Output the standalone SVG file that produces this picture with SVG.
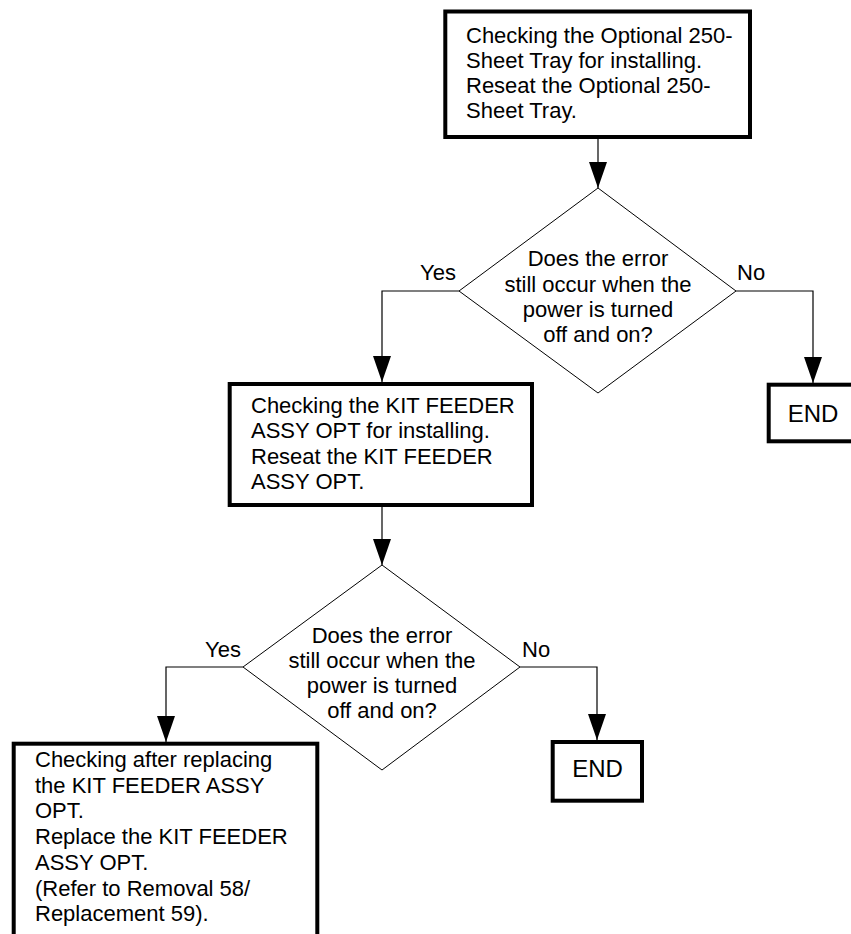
<svg xmlns="http://www.w3.org/2000/svg" width="851" height="934" viewBox="0 0 851 934">
  <defs>
    <marker id="arrow" viewBox="0 0 26 18" refX="26" refY="9" markerWidth="26" markerHeight="18" markerUnits="userSpaceOnUse" orient="auto">
      <path d="M0,0 L26,9 L0,18 z" fill="#000"/>
    </marker>
  </defs>
  <style>
    .box { fill: #fff; stroke: #000; stroke-width: 4; }
    .decision { fill: #fff; stroke: #000; stroke-width: 1; }
    .edge { fill: none; stroke: #000; stroke-width: 1.2; marker-end: url(#arrow); }
    text { font-family: "Liberation Sans", Arial, sans-serif; font-size: 22px; fill: #000; }
    .mid { text-anchor: middle; }
    .end { font-size: 24px; text-anchor: middle; }
  </style>
  <rect width="851" height="934" fill="#fff"/>

  <!-- connectors -->
  <g id="connectors">
    <path class="edge" d="M598,139 V188"/>
    <path class="edge" d="M459,291 H382 V382"/>
    <path class="edge" d="M736,291 H813 V383"/>
    <path class="edge" d="M382,507 V565"/>
    <path class="edge" d="M243,667 H166 V742"/>
    <path class="edge" d="M520,667 H597 V740"/>
    <text x="420" y="280">Yes</text>
    <text x="737" y="280">No</text>
    <text x="205" y="657">Yes</text>
    <text x="522" y="657">No</text>
  </g>

  <!-- step: check optional tray -->
  <g id="check-tray">
    <rect class="box" x="445.3" y="11.5" width="304.7" height="125.5"/>
    <text x="466" y="43">Checking the Optional 250-</text>
    <text x="466" y="68">Sheet Tray for installing.</text>
    <text x="466" y="93">Reseat the Optional 250-</text>
    <text x="466" y="118">Sheet Tray.</text>
  </g>

  <!-- decision 1 -->
  <g id="decision-1">
    <polygon class="decision" points="598,188 736,291 598,393 459,291"/>
    <text class="mid" x="598" y="266">Does the error</text>
    <text class="mid" x="598" y="292">still occur when the</text>
    <text class="mid" x="598" y="317">power is turned</text>
    <text class="mid" x="598" y="342">off and on?</text>
  </g>

  <!-- end 1 -->
  <g id="end-1">
    <rect class="box" x="768.7" y="384.7" width="93" height="56.6"/>
    <text class="end" x="813" y="421.5">END</text>
  </g>

  <!-- step: check kit feeder -->
  <g id="check-feeder">
    <rect class="box" x="229.7" y="384" width="302.3" height="121"/>
    <text x="251" y="412.5">Checking the KIT FEEDER</text>
    <text x="251" y="438">ASSY OPT for installing.</text>
    <text x="251" y="463.5">Reseat the KIT FEEDER</text>
    <text x="251" y="489">ASSY OPT.</text>
  </g>

  <!-- decision 2 -->
  <g id="decision-2">
    <polygon class="decision" points="382,565 520,667 382,770 243,667"/>
    <text class="mid" x="382" y="642.7">Does the error</text>
    <text class="mid" x="382" y="668">still occur when the</text>
    <text class="mid" x="382" y="693">power is turned</text>
    <text class="mid" x="382" y="718">off and on?</text>
  </g>

  <!-- end 2 -->
  <g id="end-2">
    <rect class="box" x="552.7" y="742" width="89.3" height="58.7"/>
    <text class="end" x="597.5" y="777">END</text>
  </g>

  <!-- step: replace kit feeder -->
  <g id="replace-feeder">
    <rect class="box" x="13.7" y="743.7" width="303.6" height="260"/>
    <text x="35" y="767">Checking after replacing</text>
    <text x="35" y="792.7">the KIT FEEDER ASSY</text>
    <text x="35" y="818.4">OPT.</text>
    <text x="35" y="844">Replace the KIT FEEDER</text>
    <text x="35" y="869.8">ASSY OPT.</text>
    <text x="35" y="895.5">(Refer to Removal 58/</text>
    <text x="35" y="921.2">Replacement 59).</text>
  </g>
</svg>
